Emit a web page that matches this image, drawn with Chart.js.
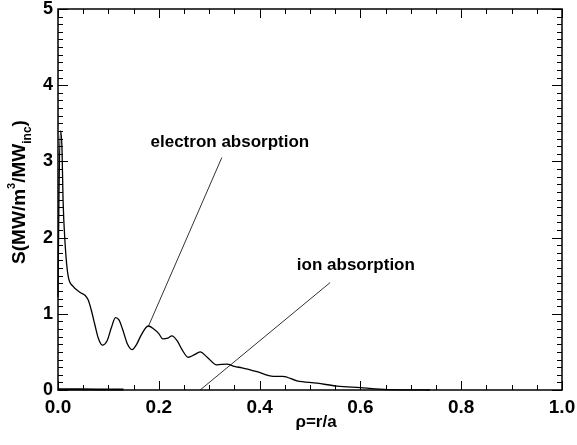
<!DOCTYPE html>
<html>
<head>
<meta charset="utf-8">
<script src="https://cdn.jsdelivr.net/npm/chart.js@4"></script>
<style>
  html, body { margin: 0; padding: 0; background: #fff; }
  #wrap { width: 577px; height: 445px; }
</style>
</head>
<body>
<div id="wrap"><canvas id="myChart" width="577" height="445"></canvas></div>
<script>
// power deposition profile
const rho = [0, 0.002, 0.005, 0.008, 0.01, 0.014, 0.02, 0.03, 0.044, 0.054, 0.06, 0.066, 0.073,
  0.08, 0.088, 0.097, 0.106, 0.114, 0.121, 0.128, 0.138, 0.147, 0.156, 0.165, 0.179, 0.19,
  0.2, 0.208, 0.218, 0.226, 0.236, 0.247, 0.258, 0.27, 0.282, 0.296, 0.315, 0.335, 0.35,
  0.365, 0.395, 0.427, 0.446, 0.474, 0.514, 0.554, 0.6, 0.63, 0.659, 0.7, 0.738];
const electronAbs = [1.22, 2.6, 3.4, 3.15, 2.5, 1.93, 1.5, 1.36, 1.28, 1.24, 1.18, 1.05, 0.86,
  0.68, 0.59, 0.64, 0.82, 0.95, 0.92, 0.8, 0.6, 0.53, 0.6, 0.72, 0.84, 0.8,
  0.74, 0.67, 0.68, 0.71, 0.65, 0.52, 0.43, 0.46, 0.5, 0.43, 0.33, 0.34, 0.31,
  0.29, 0.24, 0.18, 0.18, 0.12, 0.09, 0.05, 0.03, 0.015, 0.005, 0.002, 0];
const ionRho = [0, 0.04, 0.08, 0.13];
const ionAbs = [0.01, 0.01, 0.008, 0.006];

// label pointer lines and text spots (data units)
const electronPointer = [[0.325, 3.05], [0.179, 0.83]];
const ionPointer = [[0.54, 1.41], [0.282, 0.0]];
const labelText = ["electron absorption", "ion absorption"];
const labelPos = [[0.341, 3.25], [0.591, 1.64]];

const xTicks = [0, 0.2, 0.4, 0.6, 0.8, 1.0];
const yTicks = [0, 1, 2, 3, 4, 5];

const toPts = (xs, ys) => xs.map((x, i) => ({ x: x, y: ys[i] }));
const pairPts = (arr) => arr.map((p) => ({ x: p[0], y: p[1] }));

const FONT = "'Liberation Sans', Arial, sans-serif";

// box with inward ticks, titles and labels, IDL style
const framePlugin = {
  id: "frame",
  afterDraw(chart) {
    const c = chart.ctx;
    const xs = chart.scales.x, ys = chart.scales.y;
    const a = chart.chartArea;
    c.save();
    c.strokeStyle = "#000";
    c.lineWidth = 1.5;
    c.strokeRect(a.left, a.top, a.right - a.left, a.bottom - a.top);
    c.lineWidth = 1;
    c.beginPath();
    for (let i = 0; i <= 20; i++) {
      const v = i * 0.05;
      const px = Math.round(xs.getPixelForValue(v)) + 0.5;
      const len = i % 4 === 0 ? 9 : 5;
      c.moveTo(px, a.bottom); c.lineTo(px, a.bottom - len);
      c.moveTo(px, a.top); c.lineTo(px, a.top + len);
    }
    for (let i = 0; i <= 50; i++) {
      const v = i * 0.1;
      const py = Math.round(ys.getPixelForValue(v)) + 0.5;
      const len = i % 10 === 0 ? 10 : 5;
      c.moveTo(a.left, py); c.lineTo(a.left + len, py);
      c.moveTo(a.right, py); c.lineTo(a.right - len, py);
    }
    c.stroke();

    // annotation text
    c.fillStyle = "#000";
    c.font = "bold 17px " + FONT;
    c.textAlign = "center";
    c.textBaseline = "middle";
    labelText.forEach((t, i) => {
      c.fillText(t, xs.getPixelForValue(labelPos[i][0]), ys.getPixelForValue(labelPos[i][1]));
    });

    // x title
    c.font = "bold 17px " + FONT;
    c.fillText("\u03c1=r/a", (a.left + a.right) / 2 + 6, 422);

    // y title with super/subscript
    const parts = [
      { t: "S(MW/m", f: 19, dy: 0 },
      { t: "3", f: 11, dy: -10 },
      { t: "/MW", f: 19, dy: 0 },
      { t: "inc", f: 12, dy: 6 },
      { t: ")", f: 19, dy: 0 },
    ];
    let w = 0;
    parts.forEach((p) => { c.font = "bold " + p.f + "px " + FONT; p.w = c.measureText(p.t).width; w += p.w; });
    c.translate(25, 192);
    c.rotate(-Math.PI / 2);
    c.textAlign = "left";
    c.textBaseline = "alphabetic";
    let x = -w / 2;
    parts.forEach((p) => {
      c.font = "bold " + p.f + "px " + FONT;
      c.fillText(p.t, x, p.dy);
      x += p.w;
    });
    c.restore();
  },
};

document.addEventListener("DOMContentLoaded", function () {
  const ctx = document.getElementById("myChart").getContext("2d");

  new Chart(ctx, {
    type: "line",
    data: {
      datasets: [
        {
          label: "electron",
          data: toPts(rho, electronAbs),
          borderColor: "#000",
          borderWidth: 1.3,
          pointRadius: 0,
          tension: 0.35,
          cubicInterpolationMode: "monotone",
        },
        {
          label: "ion",
          data: toPts(ionRho, ionAbs),
          borderColor: "#000",
          borderWidth: 2,
          pointRadius: 0,
        },
        {
          label: "electron pointer",
          data: pairPts(electronPointer),
          borderColor: "#333",
          borderWidth: 1,
          pointRadius: 0,
        },
        {
          label: "ion pointer",
          data: pairPts(ionPointer),
          borderColor: "#333",
          borderWidth: 1,
          pointRadius: 0,
        },
      ],
    },
    options: {
      responsive: false,
      animation: false,
      clip: false,
      layout: { padding: { top: 9, right: 15, left: 0, bottom: 0 } },
      plugins: { legend: { display: false }, tooltip: { enabled: false } },
      scales: {
        x: {
          type: "linear",
          min: 0,
          max: 1,
          afterBuildTicks: (s) => { s.ticks = xTicks.map((v) => ({ value: v })); },
          ticks: {
            callback: (v) => Number(v).toFixed(1),
            color: "#000",
            font: { family: FONT, size: 19, weight: "bold", lineHeight: 1 },
            padding: 8,
            maxRotation: 0,
            autoSkip: false,
          },
          grid: { display: false, drawTicks: false },
          border: { display: false },
          afterFit: (s) => { s.height = 55; s.paddingLeft = 0; s.paddingRight = 0; },
        },
        y: {
          min: 0,
          max: 5,
          afterBuildTicks: (s) => { s.ticks = yTicks.map((v) => ({ value: v })); },
          ticks: {
            color: "#000",
            font: { family: FONT, size: 18, weight: "bold", lineHeight: 1 },
            padding: 5,
            autoSkip: false,
          },
          grid: { display: false, drawTicks: false },
          border: { display: false },
          afterFit: (s) => { s.width = 58; s.paddingTop = 0; s.paddingBottom = 0; },
        },
      },
    },
    plugins: [framePlugin],
  });
});
</script>
</body>
</html>
